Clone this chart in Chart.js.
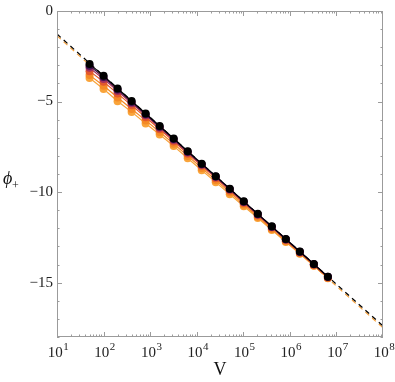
<!DOCTYPE html>
<html>
<head>
<meta charset="utf-8">
<script src="https://cdn.jsdelivr.net/npm/chart.js@4"></script>
<style>
  html, body { margin: 0; padding: 0; background: #fff; }
  #wrap { width: 395px; height: 382px; }
</style>
</head>
<body>
<div id="wrap"><canvas id="chart"></canvas></div>
<script>
// system volumes V (doubling)
const volumes = [50, 100, 200, 400, 800, 1600, 3200, 6400, 12800, 25600, 51200,
  102400, 204800, 409600, 819200, 1638400, 3276800, 6553600];

// phi_+ for each curve, lightest (bottom) to black (top)
const phiLight = [-3.70, -4.31, -4.98, -5.57, -6.21, -6.82, -7.46, -8.13, -8.79, -9.45,
  -10.12, -10.78, -11.43, -12.09, -12.76, -13.41, -14.07, -14.76];
const phiOrange = [-3.54, -4.13, -4.78, -5.41, -6.04, -6.68, -7.33, -8.00, -8.67, -9.34,
  -10.01, -10.69, -11.36, -12.03, -12.71, -13.38, -14.05, -14.74];
const phiRed = [-3.32, -3.91, -4.56, -5.21, -5.87, -6.53, -7.20, -7.88, -8.55, -9.23,
  -9.91, -10.60, -11.28, -11.96, -12.65, -13.33, -14.01, -14.71];
const phiMagenta = [-3.14, -3.75, -4.42, -5.09, -5.76, -6.44, -7.12, -7.81, -8.49, -9.17,
  -9.86, -10.55, -11.24, -11.92, -12.62, -13.31, -13.99, -14.69];
const phiPurple = [-3.02, -3.65, -4.34, -5.02, -5.70, -6.39, -7.07, -7.77, -8.46, -9.14,
  -9.83, -10.53, -11.22, -11.91, -12.60, -13.29, -13.98, -14.68];
const phiBlack = [-2.92, -3.58, -4.28, -4.97, -5.66, -6.35, -7.04, -7.74, -8.43, -9.12,
  -9.81, -10.51, -11.20, -11.89, -12.59, -13.28, -13.97, -14.67];

// asymptotic dashed guides
const guideV = [10, 1e8];
const guideBlack = [-1.27, -17.39];
const guideOrange = [-1.37, -17.49];

const xTickValues = [1e1, 1e2, 1e3, 1e4, 1e5, 1e6, 1e7, 1e8];
const xTickExps = ['1', '2', '3', '4', '5', '6', '7', '8'];
const yTickValues = [-15, -10, -5, 0];
const yTickLabels = ['−15', '−10', '−5', '0'];

const pts = (ys) => volumes.map((v, i) => ({ x: v, y: ys[i] }));
const guide = (ys) => guideV.map((v, i) => ({ x: v, y: ys[i] }));

const series = (ys, color) => ({
  data: pts(ys),
  borderColor: color,
  backgroundColor: color,
  borderWidth: 1.2,
  pointRadius: 4,
  pointBorderWidth: 0,
  pointHoverRadius: 4,
});

const FONT = "'Liberation Serif', 'DejaVu Serif', serif";

const frame = {
  id: 'frame',
  afterDraw(chart) {
    const { ctx, chartArea: a, scales: { x, y } } = chart;
    ctx.save();
    ctx.strokeStyle = '#9b9b9b';
    ctx.lineWidth = 1;
    ctx.strokeRect(Math.round(a.left) + 0.5, Math.round(a.top) + 0.5,
      Math.round(a.right - a.left) - 1, Math.round(a.bottom - a.top) - 1);
    ctx.beginPath();
    for (let e = 1; e < 8; e++) {
      for (let m = 1; m < 10; m++) {
        const px = Math.round(x.getPixelForValue(m * Math.pow(10, e))) + 0.5;
        const len = m === 1 ? 5 : 2.5;
        ctx.moveTo(px, a.bottom); ctx.lineTo(px, a.bottom - len);
        ctx.moveTo(px, a.top); ctx.lineTo(px, a.top + len);
      }
    }
    for (let v = -18; v <= 0; v++) {
      const py = Math.round(y.getPixelForValue(v)) + 0.5;
      const len = v % 5 === 0 ? 5 : 2.5;
      ctx.moveTo(a.left, py); ctx.lineTo(a.left + len, py);
      ctx.moveTo(a.right, py); ctx.lineTo(a.right - len, py);
    }
    ctx.stroke();

    // x tick labels: 10 with superscript exponent
    ctx.fillStyle = '#222';
    ctx.textBaseline = 'alphabetic';
    xTickValues.forEach((v, i) => {
      const px = x.getPixelForValue(v);
      ctx.font = '15px ' + FONT;
      const wBase = ctx.measureText('10').width;
      ctx.font = '11px ' + FONT;
      const wExp = ctx.measureText(xTickExps[i]).width;
      const left = px - (wBase + wExp) / 2 + 1;
      ctx.font = '15px ' + FONT;
      ctx.textAlign = 'left';
      ctx.fillText('10', left, a.bottom + 20);
      ctx.font = '11px ' + FONT;
      ctx.fillText(xTickExps[i], left + wBase + 0.5, a.bottom + 13);
    });

    // y axis label
    ctx.fillStyle = '#111';
    ctx.font = 'italic 18px ' + FONT;
    ctx.fillText('ϕ', 3, 184);
    ctx.font = '12px ' + FONT;
    ctx.fillText('+', 12, 189);
    ctx.restore();
  }
};

new Chart(document.getElementById('chart'), {
  type: 'line',
  data: {
    datasets: [
      series(phiBlack, '#000000'),
      series(phiPurple, '#3d1250'),
      series(phiMagenta, '#a3305c'),
      series(phiRed, '#e2582c'),
      series(phiOrange, '#f48a26'),
      series(phiLight, '#f9a43a'),
      {
        data: guide(guideBlack),
        borderColor: '#000',
        borderWidth: 1.2,
        borderDash: [5, 4],
        pointRadius: 0,
      },
      {
        data: guide(guideOrange),
        borderColor: '#f7a13a',
        borderWidth: 1.2,
        borderDash: [5, 4],
        pointRadius: 0,
      },
    ],
  },
  options: {
    responsive: true,
    maintainAspectRatio: false,
    animation: false,
    layout: { padding: { top: 11, right: 12, left: 0, bottom: 0 } },
    plugins: { legend: { display: false }, tooltip: { enabled: false } },
    scales: {
      x: {
        type: 'logarithmic',
        min: 10,
        max: 1e8,
        grid: { display: false, drawTicks: false },
        border: { display: false },
        afterBuildTicks: (s) => { s.ticks = xTickValues.map((v) => ({ value: v })); },
        afterFit: (s) => { s.height = 45; s.paddingLeft = 0; s.paddingRight = 0; },
        ticks: { display: false },
        title: {
          display: true,
          text: 'V',
          color: '#111',
          font: { family: FONT, size: 18 },
          padding: { top: 0, bottom: 1 },
        },
      },
      y: {
        min: -18,
        max: 0,
        grid: { display: false, drawTicks: false },
        border: { display: false },
        afterBuildTicks: (s) => { s.ticks = yTickValues.map((v) => ({ value: v })); },
        afterFit: (s) => { s.width = 57; s.paddingTop = 0; s.paddingBottom = 0; },
        ticks: {
          padding: 4,
          color: '#222',
          font: { family: FONT, size: 15 },
          callback: (v) => yTickLabels[yTickValues.indexOf(v)] || '',
        },
      },
    },
  },
  plugins: [frame],
});
</script>
</body>
</html>
